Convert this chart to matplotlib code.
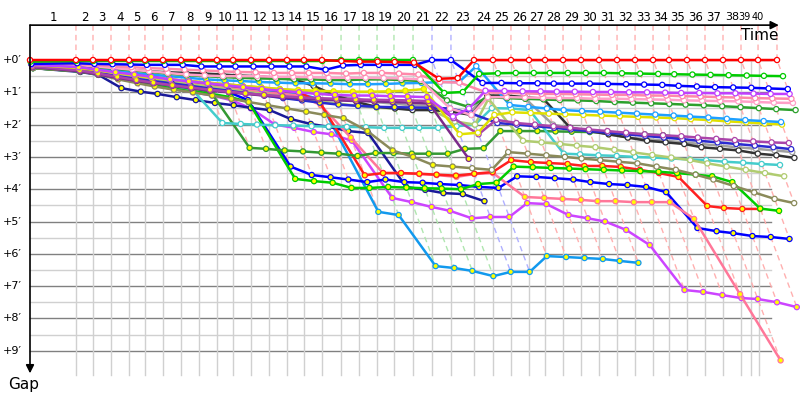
import matplotlib.pyplot as plt

# leader's lap-end times in minutes (lap 0 = start); grid times used for the lap bands
lap_times = [0.0, 3.83, 5.25, 6.75, 8.25, 9.58, 11.08, 12.58, 14.08, 15.58, 16.92,
             18.42, 19.92, 21.42, 22.83, 24.33, 25.92, 27.42, 28.92, 30.33, 31.92,
             33.5, 35.08, 37.0, 38.58, 40.08, 41.58, 42.92, 44.42, 45.92, 47.42,
             48.92, 50.42, 51.92, 53.25, 54.75, 56.25, 57.75, 59.25, 60.67, 62.25]
grid_times = [0.0, 3.83, 5.25, 6.75, 8.25, 9.58, 11.08, 12.58, 14.08, 15.58, 16.92,
              18.42, 19.92, 21.42, 22.83, 24.33, 25.92, 27.42, 28.92, 30.33, 31.92,
              33.5, 35.08, 37.0, 38.58, 40.08, 41.58, 42.92, 44.42, 45.92, 47.42,
              48.92, 50.42, 51.92, 53.25, 54.75, 56.25, 57.75, 59.25, 60.08, 60.75]
lap_labels = [str(i) for i in range(1, 41)]
gap_ticks = [0, 1, 2, 3, 4, 5, 6, 7, 8, 9]

# gap to the leader (minutes) at the end of each lap
red = [0, 0, 0, 0, 0, 0, 0, 0, 0, 0,
       0, 0, 0, 0, 0, 0, 0.03, 0.05, 0.05, 0.06,
       0.08, 0.58, 0.56, 0, 0, 0, 0, 0, 0, 0,
       0, 0, 0, 0, 0, 0, 0, 0, 0, 0, 0]
green1 = [0.05, 0.03, 0.03, 0.03, 0.03, 0.03, 0.03, 0.03, 0.03, 0.03,
          0.03, 0.03, 0.03, 0.03, 0.03, 0.03, 0, 0, 0, 0,
          0, 1.02, 0.99, 0.43, 0.41, 0.4, 0.4, 0.4, 0.4, 0.4,
          0.4, 0.41, 0.42, 0.43, 0.44, 0.45, 0.46, 0.47, 0.48, 0.49, 0.5]
blue1 = [0.12, 0.1, 0.12, 0.13, 0.14, 0.15, 0.15, 0.15, 0.2, 0.2,
         0.2, 0.2, 0.2, 0.2, 0.2, 0.3, 0.17, 0.15, 0.15, 0.15,
         0.15, 0, 0, 0.71, 0.71, 0.72, 0.72, 0.73, 0.73, 0.73,
         0.74, 0.75, 0.76, 0.77, 0.8, 0.82, 0.84, 0.85, 0.86, 0.88, 0.9]
violet = [0.15, 0.22, 0.3, 0.38, 0.45, 0.52, 0.6, 0.66, 0.72, 0.78,
          0.84, 0.9, 0.95, 1.0, 1.05, 1.08, 1.1, 1.1, 1.12, 1.13,
          1.15, 1.75, 1.5, 0.95, 0.96, 0.97, 0.97, 0.98, 0.98, 0.99,
          0.99, 1.0, 1.0, 1.01, 1.02, 1.02, 1.03, 1.03, 1.04, 1.05, 1.05]
pink_a = [0.08, 0.12, 0.15, 0.2, 0.22, 0.25, 0.27, 0.3, 0.32, 0.35,
          0.37, 0.38, 0.4, 0.4, 0.4, 0.4, 0.42, 0.4, 0.4, 0.42,
          0.45, 0.68, 0.7, 1.0, 1.02, 1.03, 1.05, 1.05, 1.06, 1.07,
          1.08, 1.08, 1.1, 1.1, 1.12, 1.13, 1.15, 1.16, 1.18, 1.19, 1.2]
pink_b = [0.1, 0.15, 0.2, 0.25, 0.3, 0.35, 0.4, 0.45, 0.48, 0.5,
          0.5, 0.5, 0.52, 0.52, 0.53, 0.55, 0.55, 0.55, 0.56, 0.57,
          0.6, 1.5, 1.7, 1.15, 1.15, 1.16, 1.17, 1.18, 1.18, 1.2,
          1.2, 1.21, 1.22, 1.23, 1.25, 1.26, 1.27, 1.28, 1.3, 1.32, 1.33]
dkgreen1 = [0.12, 0.18, 0.22, 0.27, 0.32, 0.37, 0.42, 0.47, 0.5, 0.53,
            0.55, 0.57, 0.58, 0.6, 0.6, 0.62, 0.62, 0.6, 0.6, 0.62,
            0.65, 1.25, 1.45, 1.15, 1.18, 1.2, 1.22, 1.24, 1.25, 1.27,
            1.3, 1.32, 1.34, 1.36, 1.38, 1.4, 1.43, 1.46, 1.49, 1.52, 1.55]
skyblue1 = [0.1, 0.2, 0.27, 0.33, 0.4, 0.45, 0.5, 0.55, 0.6, 0.63,
            0.65, 0.68, 0.7, 0.72, 0.72, 0.73, 0.75, 0.75, 0.74, 0.72,
            0.71, 0.68, 0.68, 0.19, 1.39, 1.45, 1.5, 1.55, 1.58, 1.6,
            1.63, 1.66, 1.69, 1.72, 1.75, 1.78, 1.82, 1.86, 1.89, 1.92]
yellow = [0.15, 0.25, 0.32, 0.4, 0.48, 0.55, 0.6, 0.65, 0.7, 0.75,
          0.8, 0.85, 0.9, 0.93, 0.95, 0.97, 0.98, 0.98, 0.97, 0.95,
          0.9, 2.3, 2.25, 1.7, 1.62, 1.64, 1.66, 1.68, 1.7, 1.72,
          1.74, 1.76, 1.78, 1.8, 1.83, 1.86, 1.9, 1.93, 1.97, 2.0]
purple_a = [0.2, 0.32, 0.42, 0.52, 0.62, 0.7, 0.78, 0.85, 0.92, 0.98,
            1.03, 1.08, 1.12, 1.16, 1.18, 1.2, 1.22, 1.23, 1.24, 1.25,
            1.27, 1.8, 2.3, 1.85, 1.95, 2.0, 2.05, 2.1, 2.15, 2.2,
            2.25, 2.3, 2.33, 2.36, 2.4, 2.44, 2.48, 2.52, 2.55, 2.57]
purple_b = [0.22, 0.35, 0.45, 0.55, 0.65, 0.72, 0.8, 0.88, 0.95, 1.0,
            1.05, 1.1, 1.15, 1.2, 1.22, 1.25, 1.27, 1.28, 1.3, 1.32,
            1.35, 3.06]
navy3 = [0.2, 0.3, 0.4, 0.5, 0.58, 0.65, 0.72, 0.8, 0.88, 0.95,
         1.02, 1.1, 1.18, 1.25, 1.32, 1.38, 1.42, 1.45, 1.46, 1.47,
         1.48, 1.5, 1.65, 1.95, 2.0, 2.05, 2.1, 2.15, 2.2, 2.25,
         2.3, 2.35, 2.4, 2.45, 2.5, 2.55, 2.6, 2.65, 2.7, 2.76]
black = [0.2, 0.25, 0.28, 0.3, 0.32, 0.35, 0.38, 0.4, 0.42, 0.45,
         0.48, 0.5, 0.55, 0.6, 0.8, 1.1, 1.3, 1.45, 1.5, 1.55,
         1.55, 1.6, 1.7, 1.1, 1.1, 1.15, 1.2, 2.1, 2.2, 2.3,
         2.4, 2.5, 2.55, 2.6, 2.7, 2.75, 2.8, 2.9, 2.95, 3.03]
grey = [0.22, 0.3, 0.38, 0.45, 0.5, 0.55, 0.6, 0.65, 0.7, 0.75,
        0.8, 0.85, 0.9, 0.95, 1.0, 1.1, 1.2, 1.3, 1.35, 1.4,
        1.42, 1.55, 1.6, 1.1, 1.15, 1.2, 2.0, 2.1, 2.2, 2.3,
        2.4, 2.45, 2.5, 2.55, 2.6, 2.65, 2.7, 2.75, 2.8, 2.85]
light_olive = [0.18, 0.28, 0.36, 0.45, 0.52, 0.6, 0.68, 0.75, 0.82, 0.9,
               0.98, 1.05, 1.12, 1.2, 1.28, 1.35, 1.42, 1.48, 1.5, 1.52,
               1.55, 1.9, 2.0, 1.2, 2.5, 2.55, 2.6, 2.65, 2.7, 2.78,
               2.86, 2.94, 3.02, 3.1, 3.2, 3.3, 3.4, 3.5, 3.6]
olive = [0.25, 0.35, 0.45, 0.6, 0.72, 0.82, 0.92, 1.0, 1.1, 1.2,
         1.3, 1.4, 1.5, 1.6, 1.7, 1.8, 2.2, 2.8, 3.0, 3.25,
         3.3, 3.35, 3.4, 2.85, 2.9, 2.95, 3.0, 3.05, 3.1, 3.15,
         3.2, 3.3, 3.4, 3.55, 3.7, 3.9, 4.1, 4.3, 4.43]
cyan = [0.2, 0.3, 0.4, 0.5, 0.6, 0.7, 0.8, 0.9, 1.95, 1.98,
        2.0, 2.02, 2.03, 2.05, 2.06, 2.07, 2.08, 2.1, 2.1, 2.1,
        2.1, 2.05, 2.0, 1.49, 1.5, 1.55, 2.9, 2.92, 2.95, 2.97,
        3.0, 3.02, 3.05, 3.08, 3.1, 3.15, 3.18, 3.22, 3.25]
dkgreen2 = [0.25, 0.35, 0.45, 0.55, 0.62, 0.7, 0.78, 0.85, 1.0, 2.72,
            2.75, 2.8, 2.83, 2.87, 2.9, 2.97, 2.88, 2.88, 2.9, 2.9,
            2.9, 2.75, 2.73, 2.2, 2.2, 2.2, 2.21, 2.22, 2.23, 2.25,
            2.27, 2.3, 2.33, 2.4]
green2 = [0.25, 0.35, 0.45, 0.55, 0.65, 0.75, 0.85, 0.95, 1.05, 1.15,
          1.3, 3.68, 3.75, 3.8, 3.96, 3.96, 3.93, 3.95, 3.97, 3.98,
          4.0, 3.84, 3.8, 3.3, 3.32, 3.34, 3.36, 3.38, 3.4, 3.42,
          3.44, 3.46, 3.5, 3.55, 3.6, 3.78, 4.6, 4.67]
red2 = [0.15, 0.22, 0.3, 0.38, 0.45, 0.52, 0.6, 0.66, 0.72, 0.78,
        0.84, 0.9, 0.95, 1.0, 1.3, 3.57, 3.5, 3.5, 3.52, 3.55,
        3.58, 3.52, 3.47, 3.1, 3.16, 3.19, 3.22, 3.28, 3.28, 3.31,
        3.4, 3.5, 3.62, 4.52, 4.58, 4.61, 4.61]
pink2 = [0.18, 0.26, 0.34, 0.42, 0.5, 0.58, 0.65, 0.72, 0.8, 0.87,
         0.93, 1.0, 1.05, 1.1, 1.4, 2.4, 3.5, 3.5, 3.53, 3.56,
         3.62, 3.53, 3.5, 4.24, 4.27, 4.3, 4.33, 4.37, 4.37, 4.4,
         4.4, 4.4, 4.92, 7.25, 9.3]
blue2 = [0.2, 0.28, 0.36, 0.44, 0.52, 0.6, 0.68, 0.76, 0.85, 1.0,
         1.24, 3.3, 3.56, 3.63, 3.7, 3.78, 3.7, 3.78, 3.8, 3.84,
         3.87, 3.93, 3.96, 3.6, 3.62, 3.66, 3.7, 3.78, 3.84, 3.87,
         3.93, 4.09, 5.2, 5.3, 5.36, 5.45, 5.48, 5.54]
navy2 = [0.25, 0.37, 0.46, 0.87, 0.98, 1.05, 1.15, 1.24, 1.33, 1.4,
         1.48, 1.55, 1.83, 1.98, 2.07, 2.2, 2.26, 3.93, 4.02, 4.12,
         4.15, 4.37]
purple2 = [0.2, 0.3, 0.4, 0.55, 0.7, 0.8, 0.9, 1.0, 1.1, 1.25,
           1.5, 2.0, 2.1, 2.23, 2.3, 2.5, 4.27, 4.4, 4.55, 4.67,
           4.9, 4.86, 4.86, 4.43, 4.46, 4.8, 4.9, 5.0, 5.26, 5.73,
           7.12, 7.18, 7.28, 7.37, 7.4, 7.5, 7.65]
skyblue2 = [0.15, 0.25, 0.33, 0.42, 0.5, 0.57, 0.64, 0.7, 0.76, 0.82,
            0.88, 0.93, 0.98, 1.05, 1.2, 4.7, 4.8, 6.38, 6.44, 6.53,
            6.69, 6.56, 6.56, 6.07, 6.1, 6.13, 6.16, 6.22, 6.28]

# (colour, gaps, first lap drawn with white markers; None = all yellow)
drivers = [
    ('#ff0000', red, 0),
    ('#00cc00', green1, 0),
    ('#0000ff', blue1, 0),
    ('#c040ff', violet, 21),
    ('#ff88aa', pink_a, 0),
    ('#ffa0c8', pink_b, 0),
    ('#2ca02c', dkgreen1, 0),
    ('#1ea0ff', skyblue1, 21),
    ('#e0e000', yellow, 21),
    ('#aa44aa', purple_a, 21),
    ('#7b2a8a', purple_b, None),
    ('#2a2ad0', navy3, 21),
    ('#333333', black, 13),
    ('#a0a0a0', grey, 21),
    ('#b0cc70', light_olive, 21),
    ('#8a8a5a', olive, 21),
    ('#44cccc', cyan, 8),
    ('#339933', dkgreen2, None),
    ('#00cc00', green2, None),
    ('#ff2020', red2, None),
    ('#ff7799', pink2, None),
    ('#0000ff', blue2, None),
    ('#1a1a99', navy2, None),
    ('#cc44ff', purple2, None),
    ('#1199ee', skyblue2, None),
]
lap_line_colors = {'#ff0000': '#ffb0b0', '#00cc00': '#b0e6b0', '#0000ff': '#b0b0ff'}

fig = plt.figure(figsize=(8, 4), dpi=100)
ax = fig.add_axes([0, 0, 1, 1])
ax.set_xlim(-2.5, 64.1667)
ax.set_ylim(10.526, -1.858)
ax.axis('off')

top = -1.08

# grid
for g in gap_ticks:
    ax.plot([0, 61.75], [g, g], color='#808080', lw=1, zorder=1)
    if g < 9:
        ax.plot([0, 61.75], [g + 0.5, g + 0.5], color='#d0d0d0', lw=1, zorder=1)
    ax.text(-0.7, g, '+%d\u2032' % g, ha='right', va='center', fontsize=8)
for t in grid_times[1:]:
    ax.plot([t, t], [0, 9.75], color='#d0d0d0', lw=1, zorder=1)

# lap numbers centred in each lap band; the last two bands are narrow,
# so 39 and 40 are pushed to either side of their shared edge
for i, lab in enumerate(lap_labels):
    if i == 38:
        ax.text(grid_times[39] - 0.02, -1.33, lab, ha='right', va='center', fontsize=7)
    elif i == 39:
        ax.text(grid_times[39] + 0.06, -1.33, lab, ha='left', va='center', fontsize=7)
    else:
        ax.text((grid_times[i] + grid_times[i + 1]) / 2, -1.33, lab,
                ha='center', va='center', fontsize=8 if i == 37 else 8.5)

# lap lines: vertical to the leader, then through every car on that lap
for n in range(1, len(lap_times)):
    on_lap = [d for d in drivers if len(d[1]) > n]
    lead = min(on_lap, key=lambda d: d[1][n])
    gmax = max(d[1][n] for d in on_lap)
    t = lap_times[n]
    ax.plot([t, t, t + gmax], [top, 0, gmax], color=lap_line_colors[lead[0]],
            lw=1, ls=(0, (4, 3)), zorder=2)

# drivers, back markers first so the leaders sit on top
for k, (color, gaps, white_from) in enumerate(reversed(drivers)):
    xs = [lap_times[i] + g for i, g in enumerate(gaps)]
    faces = ['#ffff00' if white_from is None or i < white_from else 'white'
             for i in range(len(gaps))]
    ax.plot(xs, gaps, color=color, lw=1.8, zorder=3 + 2 * k, solid_joinstyle='round')
    ax.scatter(xs, gaps, s=14, c=faces, edgecolors=color, linewidths=0.9,
               zorder=4 + 2 * k)

# axes with arrows
ax.annotate('', xy=(62.4, top), xytext=(0, top),
            arrowprops=dict(arrowstyle='-|>', color='black', lw=1.2,
                            mutation_scale=12, shrinkA=0, shrinkB=0), zorder=100)
ax.annotate('', xy=(0, 9.7), xytext=(0, top),
            arrowprops=dict(arrowstyle='-|>', color='black', lw=1.2,
                            mutation_scale=12, shrinkA=0, shrinkB=0), zorder=100)
ax.text(60.8, -0.77, 'Time', ha='center', va='center', fontsize=11)
ax.text(-0.5, 10.06, 'Gap', ha='center', va='center', fontsize=11)

fig.savefig('out.png', dpi=100)
